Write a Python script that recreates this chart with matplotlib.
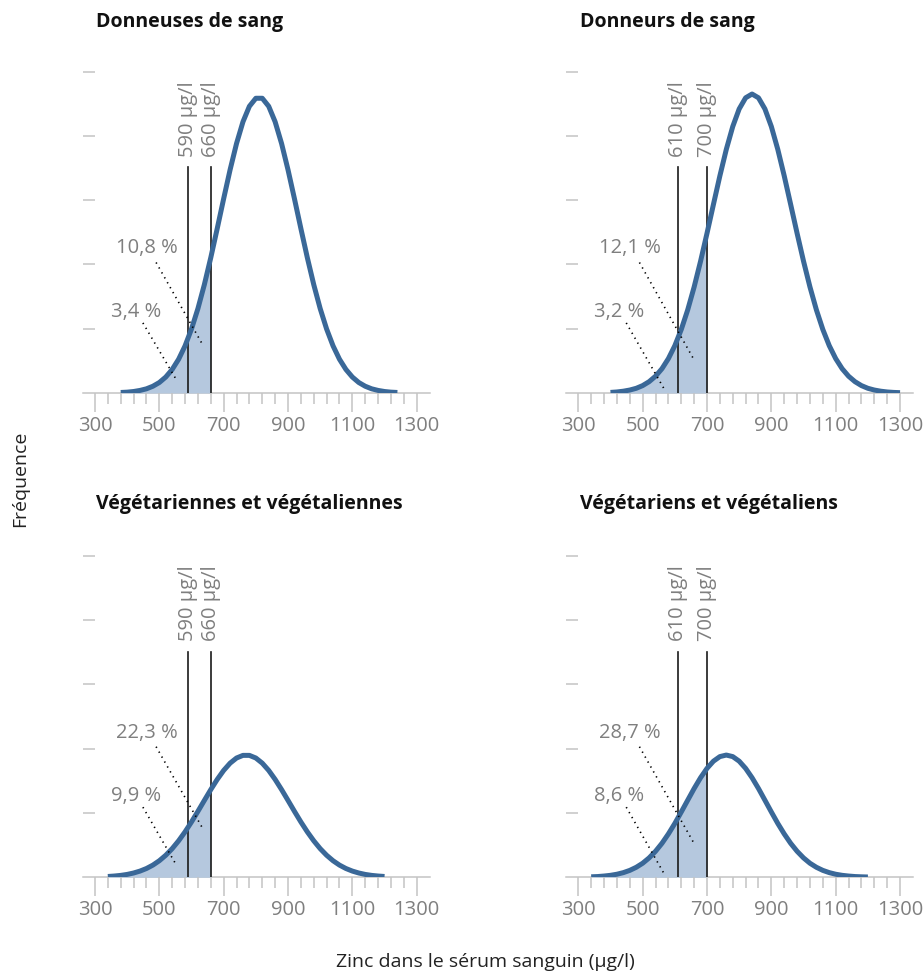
import matplotlib
matplotlib.use("Agg")
import matplotlib.pyplot as plt
import matplotlib.ticker as ticker
import numpy as np

plt.rcParams["font.family"] = ["Open Sans", "DejaVu Sans"]

# ---------- data ----------

TITLES = [
    "Donneuses de sang",
    "Donneurs de sang",
    "Végétariennes et végétaliennes",
    "Végétariens et végétaliens",
]

# zinc level sampling grid (µg/l) for each curve
X_TL = list(range(380, 1241, 20))
X_TR = list(range(400, 1301, 20))
X_BL = list(range(340, 1201, 20))
X_BR = list(range(340, 1201, 20))

# frequency (in y-tick units)
Y_TL = [0.008, 0.013, 0.023, 0.040, 0.065, 0.105, 0.163, 0.248, 0.366, 0.525,
        0.733, 0.995, 1.313, 1.686, 2.106, 2.558, 3.022, 3.472, 3.880, 4.218,
        4.459, 4.584, 4.584, 4.459, 4.218, 3.880, 3.472, 3.022, 2.558, 2.106,
        1.686, 1.313, 0.995, 0.733, 0.525, 0.366, 0.248, 0.163, 0.105, 0.065,
        0.040, 0.023, 0.013, 0.008]
Y_TR = [0.009, 0.016, 0.028, 0.046, 0.073, 0.115, 0.176, 0.261, 0.378, 0.535,
        0.736, 0.988, 1.293, 1.649, 2.050, 2.484, 2.933, 3.377, 3.789, 4.144,
        4.418, 4.591, 4.650, 4.591, 4.418, 4.144, 3.789, 3.377, 2.933, 2.484,
        2.050, 1.649, 1.293, 0.988, 0.736, 0.535, 0.378, 0.261, 0.176, 0.115,
        0.073, 0.046, 0.028, 0.016, 0.009, 0.005]
Y_BL = [0.012, 0.019, 0.029, 0.044, 0.066, 0.096, 0.136, 0.189, 0.257, 0.342,
        0.445, 0.567, 0.706, 0.860, 1.025, 1.195, 1.363, 1.521, 1.661, 1.774,
        1.854, 1.895, 1.895, 1.854, 1.774, 1.661, 1.521, 1.363, 1.195, 1.025,
        0.860, 0.706, 0.567, 0.445, 0.342, 0.257, 0.189, 0.136, 0.096, 0.066,
        0.044, 0.029, 0.019, 0.012]
Y_BR = [0.007, 0.011, 0.019, 0.030, 0.047, 0.072, 0.107, 0.155, 0.218, 0.301,
        0.404, 0.528, 0.674, 0.837, 1.015, 1.198, 1.380, 1.548, 1.693, 1.805,
        1.876, 1.900, 1.876, 1.805, 1.693, 1.548, 1.380, 1.198, 1.015, 0.837,
        0.674, 0.528, 0.404, 0.301, 0.218, 0.155, 0.107, 0.072, 0.047, 0.030,
        0.019, 0.011, 0.007, 0.004]

# cut-off values (µg/l)
CUTOFFS = [(590, 660), (610, 700), (590, 660), (610, 700)]

# share below each cut-off (lower, upper)
PCT_LABELS = [("3,4 %", "10,8 %"), ("3,2 %", "12,1 %"),
              ("9,9 %", "22,3 %"), ("8,6 %", "28,7 %")]

X_TICKS = [300, 500, 700, 900, 1100, 1300]

# ---------- layout / style ----------

AX_POS = [
    [0.0899, 0.5961, 0.375, 0.3304],
    [0.613, 0.5961, 0.375, 0.3304],
    [0.0899, 0.0984, 0.375, 0.3305],
    [0.613, 0.0984, 0.375, 0.3305],
]
TITLE_POS = [(0.1039, 0.9723), (0.6277, 0.9723), (0.1039, 0.4769), (0.6277, 0.4769)]

# dotted leader end points (lower, upper) in data coords
LEADER_END = [
    ((556, 0.18), (637, 0.73)),
    ((566, 0.07), (657, 0.54)),
    ((554, 0.18), (637, 0.74)),
    ((566, 0.06), (657, 0.55)),
]

CURVE = "#3a6898"
FILL = "#b5c8de"
GREY = "#7f7f7f"
AXIS = "#c4c4c4"

fig = plt.figure(figsize=(9.24, 9.73), dpi=100)

curves = [(X_TL, Y_TL), (X_TR, Y_TR), (X_BL, Y_BL), (X_BR, Y_BR)]

for i, ((xs, ys), (lo, hi), (p_lo, p_hi)) in enumerate(zip(curves, CUTOFFS, PCT_LABELS)):
    ax = fig.add_axes(AX_POS[i])
    x = np.array(xs)
    y = np.array(ys)

    # shaded area below upper cut-off
    mask = x <= hi
    ax.fill_between(x[mask], 0, y[mask], color=FILL, lw=0, zorder=1)
    ax.plot(x, y, color=CURVE, lw=3.6, solid_capstyle="butt",
            solid_joinstyle="round", zorder=4)

    # cut-off lines with rotated labels
    for c in (lo, hi):
        ax.plot([c, c], [0, 3.51], color="#1a1a1a", lw=1.2, zorder=3)
        ax.text(c, 3.67, f"{c} µg/l", rotation=90, ha="center", va="bottom",
                color=GREY, fontsize=14.5)

    # percentage labels and dotted leaders
    (lx, ly), (ux, uy) = LEADER_END[i]
    ax.text(427, 1.26, p_lo, ha="center", va="center", color=GREY, fontsize=14.5)
    ax.plot([449, lx], [1.09, ly], color="black", lw=1.2, ls=(0, (0.8, 2.6)), zorder=5)
    ax.text(460, 2.25, p_hi, ha="center", va="center", color=GREY, fontsize=14.5)
    ax.plot([490, ux], [2.03, uy], color="black", lw=1.2, ls=(0, (0.8, 2.6)), zorder=5)

    ax.set_xlim(263, 1340)
    ax.set_ylim(0, 5)
    for s in ("top", "right", "left"):
        ax.spines[s].set_visible(False)
    ax.spines["bottom"].set_color(AXIS)
    ax.spines["bottom"].set_linewidth(1.1)
    ax.spines["bottom"].set_zorder(0)

    ax.set_xticks(X_TICKS)
    ax.xaxis.set_minor_locator(ticker.FixedLocator(list(range(300, 1301, 40))))
    ax.tick_params(axis="x", which="major", length=13.5, width=1.1, color=AXIS,
                   labelcolor=GREY, labelsize=14.5, pad=3)
    ax.tick_params(axis="x", which="minor", length=8, width=1.1, color=AXIS)
    ax.set_yticks([1, 2, 3, 4, 5])
    ax.tick_params(axis="y", direction="in", length=8.6, width=1.1, color=AXIS,
                   labelleft=False)

    tx, ty = TITLE_POS[i]
    fig.text(tx, ty, TITLES[i], fontsize=14, fontweight="bold", color="#111111",
             ha="left", va="baseline")

fig.text(0.0216, 0.5077, "Fréquence", rotation=90, ha="center", va="center",
         fontsize=14, color="#222222")
fig.text(0.5249, 0.0062, "Zinc dans le sérum sanguin (µg/l)", ha="center",
         va="baseline", fontsize=14, color="#222222")

fig.savefig("out.png", dpi=100)
